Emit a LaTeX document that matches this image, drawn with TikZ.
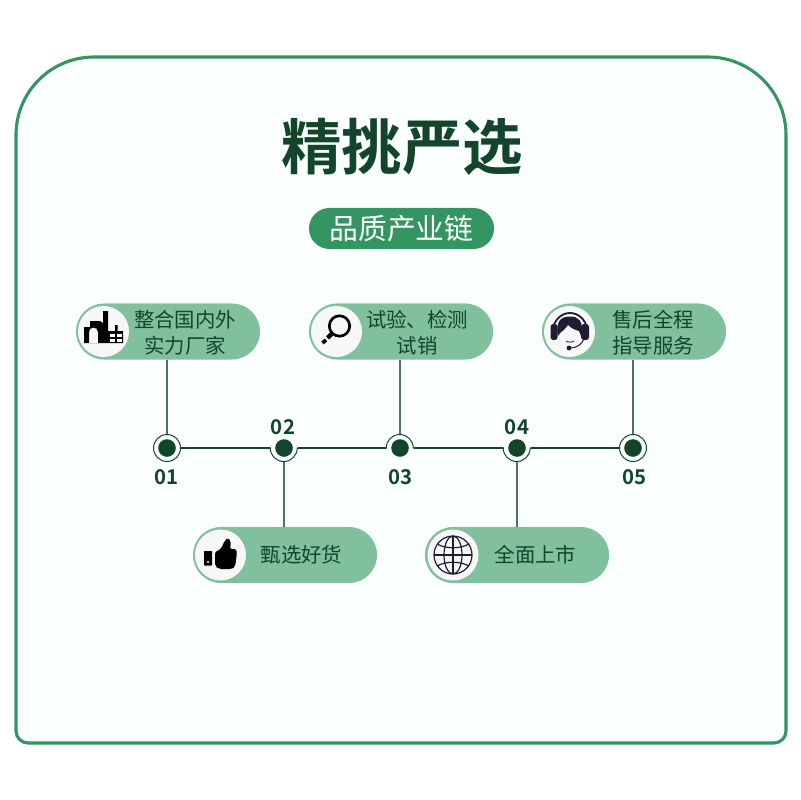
\documentclass[tikz,border=0pt]{standalone}
\usepackage{fontspec}
\setmainfont{Noto Sans CJK SC}
\newfontfamily\numfont{Noto Sans CJK SC Bold}
\usetikzlibrary{shapes.misc}
\definecolor{darkgreen}{HTML}{13452A}
\definecolor{framegreen}{HTML}{339561}
\definecolor{pillgreen}{HTML}{80C09C}
\definecolor{paper}{HTML}{FAFEFE}
\definecolor{icondark}{HTML}{1F1D33}
\begin{document}
\begin{tikzpicture}[
    x=0.025cm, y=-0.025cm,
    pill/.style={fill=pillgreen, rounded rectangle, minimum width=4.6cm, minimum height=1.4cm, inner sep=0pt},
    badge/.style={fill=white!97!black, circle, minimum size=1.275cm, inner sep=0pt},
    caption/.style={text=darkgreen, align=center, inner sep=0pt, font=\fontsize{14.5}{18.4}\selectfont},
    ring/.style={fill=paper, circle, minimum size=0.675cm, inner sep=0pt},
    dot/.style={fill=darkgreen, circle, minimum size=0.44cm, inner sep=0pt},
    tag/.style={text=darkgreen, inner sep=0pt, font=\fontsize{14.5}{17}\selectfont\numfont},
    chain/.style={draw=darkgreen, line width=1.6pt},
    stem/.style={draw=darkgreen!75!white, line width=0.9pt},
    arcline/.style={draw=darkgreen, line width=0.7pt}
]
\useasboundingbox (0,0) rectangle (800,800);
\fill[white] (0,0) rectangle (800,800);

\draw[fill=paper, draw=framegreen, line width=2.2pt]
    (16,400) [rounded corners=1.95cm] -- (16,57) -- (786,57) -- (786,400)
    [rounded corners=0.3cm] -- (786,743) -- (16,743) -- cycle;

\node[text=darkgreen, inner sep=0pt, font=\fontsize{43}{50}\selectfont\numfont] (title) at (402,147) {精挑严选};
\node[fill=framegreen, rounded rectangle, minimum width=4.625cm, minimum height=1.025cm, inner sep=0pt,
      text=white, font=\fontsize{20.5}{24}\selectfont] (subtitle) at (401.5,228.5) {品质产业链};

% pills
\node[pill] (p1) at (168,331.5) {};
\node[pill] (p2) at (401,331.5) {};
\node[pill] (p3) at (634,331.5) {};
\node[pill] (p4) at (285,555) {};
\node[pill] (p5) at (517,555) {};

\node[badge] (b1) at (103.5,331.5) {};
\node[badge] (b2) at (336.5,331.5) {};
\node[badge] (b3) at (569.5,331.5) {};
\node[badge] (b4) at (220.5,555) {};
\node[badge] (b5) at (453,555) {};

\node[caption] (c1) at (185,332.5) {整合国内外\\实力厂家};
\node[caption] (c2) at (417,332.5) {试验、检测\\试销};
\node[caption] (c3) at (653,332.5) {售后全程\\指导服务};
\node[caption] (c4) at (301.5,555) {甄选好货};
\node[caption] (c5) at (535.5,555) {全面上市};

% timeline
\coordinate (r1) at (167,448);
\coordinate (r2) at (284,448);
\coordinate (r3) at (400,448);
\coordinate (r4) at (517,448);
\coordinate (r5) at (633,448);

\draw[chain] (r1) -- (r2);
\draw[chain] (r2) -- (r3);
\draw[chain] (r3) -- (r4);
\draw[chain] (r4) -- (r5);

\node[ring] (h1) at (r1) {};
\node[ring] (h2) at (r2) {};
\node[ring] (h3) at (r3) {};
\node[ring] (h4) at (r4) {};
\node[ring] (h5) at (r5) {};

\draw[stem] (h1 |- p1.south) -- (h1.north);
\draw[stem] (h3 |- p2.south) -- (h3.north);
\draw[stem] (h5 |- p3.south) -- (h5.north);
\draw[stem] (h2 |- p4.north) -- (h2.south);
\draw[stem] (h4 |- p5.north) -- (h4.south);

\draw[arcline] (h1) circle (0.3375cm);
\draw[arcline] (h5) circle (0.3375cm);
\draw[arcline] (h3.west) arc[start angle=180, end angle=0, radius=0.3375cm];
\draw[arcline] (h2.west) arc[start angle=180, end angle=360, radius=0.3375cm];
\draw[arcline] (h4.west) arc[start angle=180, end angle=360, radius=0.3375cm];

\node[dot] (d1) at (h1) {};
\node[dot] (d2) at (h2) {};
\node[dot] (d3) at (h3) {};
\node[dot] (d4) at (h4) {};
\node[dot] (d5) at (h5) {};

\node[tag] (t1) at (166.5,477) {01};
\node[tag] (t2) at (283,427) {02};
\node[tag] (t3) at (400.5,477) {03};
\node[tag] (t4) at (517,427) {04};
\node[tag] (t5) at (634.5,477) {05};

% factory
\fill[black, even odd rule]
    (84,343) -- (84,327) -- (90,327) -- (90,321) -- (100,321) -- (103,323) -- (103,311) -- (108,311)
    -- (108,331) -- (115,331) -- (115,325) -- (117.5,325) -- (117.5,331) -- (123,331) -- (123,343) -- cycle
    (89,343) -- (89,332) arc[start angle=180, end angle=360, x radius=4.5, y radius=4.5] -- (98,343) -- cycle;
\fill[white] (110,333.5) rectangle (115,337);
\fill[white] (116.5,333.5) rectangle (121.5,337);
\fill[white] (110,338.5) rectangle (115,342);
\fill[white] (116.5,338.5) rectangle (121.5,342);

% magnifier
\draw[black, line width=1.9pt] (339.5,326) circle (10.2);
\draw[black, line width=3.2pt] (332,333.5) -- (327.5,338);
\draw[black, line width=2.6pt] (326,340) -- (322.5,343);

% headset
\draw[icondark, line width=1.3pt] (553,331) arc[start angle=180, end angle=360, x radius=17, y radius=18];
\fill[icondark, rounded corners=2pt] (550.5,324) rectangle (557.5,340);
\fill[icondark, rounded corners=2pt] (581,324) rectangle (589,340);
\fill[icondark] (558,336) .. controls (555,320) and (562,316.5) .. (570,316.5)
    .. controls (578,316.5) and (584,320) .. (581,336) -- (579,331) .. controls (575,330) and (571,328) .. (568,325)
    .. controls (566,328) and (563,331) .. (561,332) -- cycle;
\draw[icondark, line width=0.6pt] (566,341) .. controls (568,342.5) and (572,342.5) .. (574,341);
\draw[icondark, line width=0.7pt] (570,348) .. controls (577,348) and (582,344) .. (584,339);
\fill[icondark] (569,348) circle (2.4);

% thumb
\fill[black, rounded corners=0.5pt] (204,551) rectangle (212,565.5);
\fill[white] (208,562) circle (1.1);
\fill[black, rounded corners=1.5pt] (215,552) -- (221,549) -- (225,540) -- (228,538) -- (231,541)
    -- (230,549) -- (236,549) -- (237,553) -- (235,567) -- (232,569) -- (219,569) -- (215,566) -- cycle;

% globe
\draw[icondark, line width=0.85pt] (453,555) circle (19);
\draw[icondark, line width=0.85pt] (453,555) ellipse (9 and 19);
\draw[icondark, line width=0.85pt] (453,536) -- (453,574);
\draw[icondark, line width=0.85pt] (434,555) -- (472,555);
\draw[icondark, line width=0.85pt] (437,544) .. controls (446,549) and (460,549) .. (469,544);
\draw[icondark, line width=0.85pt] (437,566) .. controls (446,561) and (460,561) .. (469,566);
\end{tikzpicture}
\end{document}
